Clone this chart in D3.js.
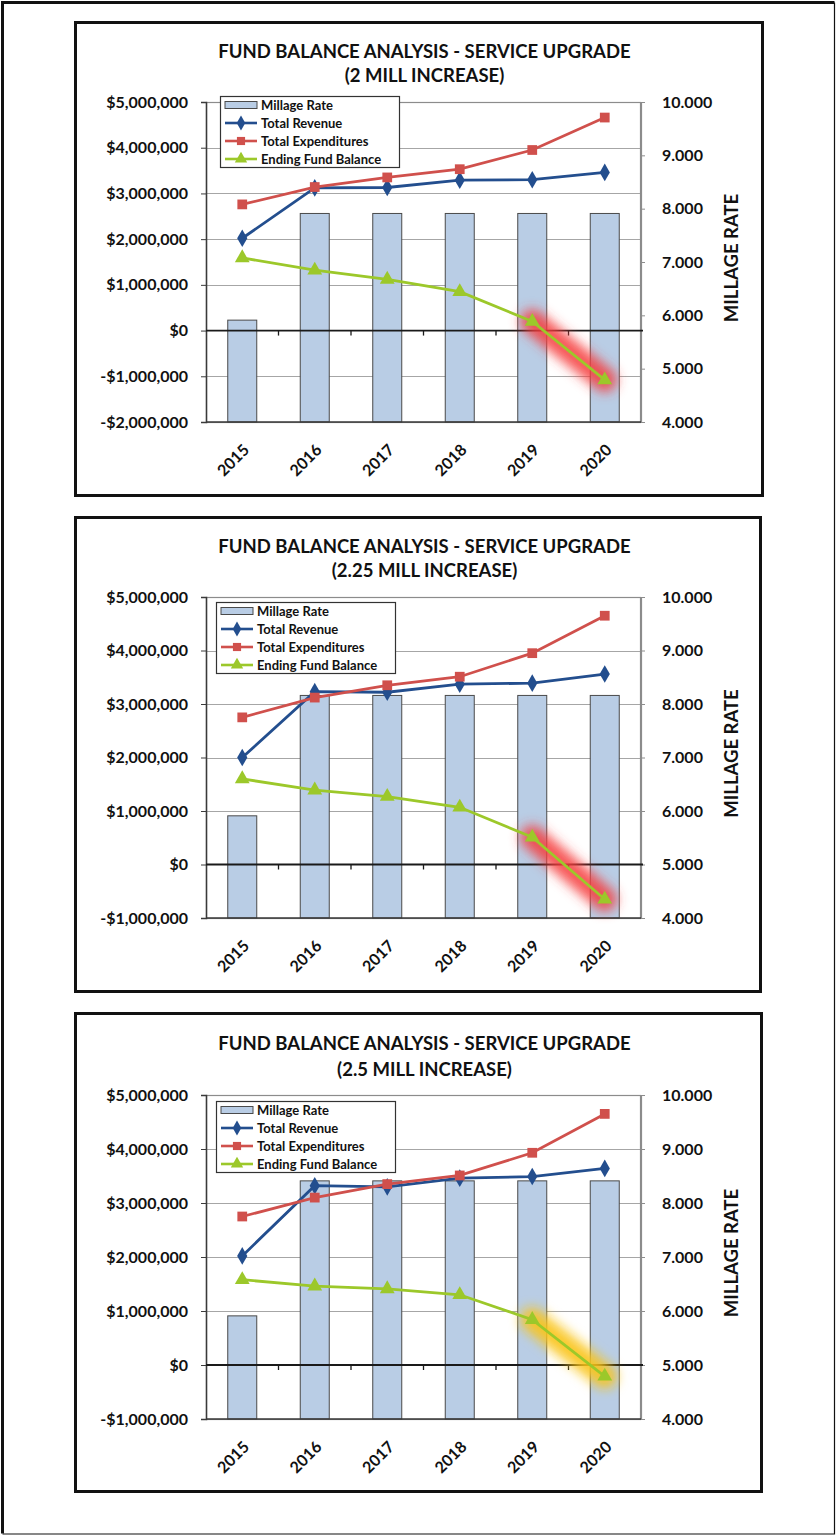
<!DOCTYPE html>
<html>
<head>
<meta charset="utf-8">
<script src="https://cdn.jsdelivr.net/npm/d3@7"></script>
<style>
  body { margin: 0; background: #fff; }
  svg { display: block; font-family: Lato, "Open Sans", "DejaVu Sans", sans-serif; }
</style>
</head>
<body>
<svg id="page" width="837" height="1535"></svg>
<script>
// ---- data -------------------------------------------------------------
const years = ["2015", "2016", "2017", "2018", "2019", "2020"];
const seriesNames = ["Millage Rate", "Total Revenue", "Total Expenditures", "Ending Fund Balance"];
const mainTitle = "FUND BALANCE ANALYSIS - SERVICE UPGRADE";
const subTitles = ["(2 MILL INCREASE)", "(2.25 MILL INCREASE)", "(2.5 MILL INCREASE)"];

// 2 mill increase
const millageA = [5.91, 7.91, 7.91, 7.91, 7.91, 7.91];
const revenueA = [2020000, 3120000, 3130000, 3290000, 3300000, 3460000];
const expendA  = [2760000, 3140000, 3350000, 3530000, 3950000, 4660000];
const balanceA = [1590000, 1320000, 1120000, 850000, 200000, -1080000];

// 2.25 mill increase
const millageB = [5.91, 8.16, 8.16, 8.16, 8.16, 8.16];
const revenueB = [2000000, 3230000, 3220000, 3370000, 3390000, 3560000];
const expendB  = [2750000, 3120000, 3350000, 3510000, 3950000, 4650000];
const balanceB = [1600000, 1390000, 1270000, 1070000, 510000, -650000];

// 2.5 mill increase
const millageC = [5.91, 8.41, 8.41, 8.41, 8.41, 8.41];
const revenueC = [2020000, 3320000, 3300000, 3460000, 3490000, 3640000];
const expendC  = [2750000, 3100000, 3350000, 3510000, 3930000, 4650000];
const balanceC = [1580000, 1460000, 1410000, 1300000, 840000, -210000];

// axis ticks
const dollarTicksA = [-2000000, -1000000, 0, 1000000, 2000000, 3000000, 4000000, 5000000];
const dollarTicksBC = [-1000000, 0, 1000000, 2000000, 3000000, 4000000, 5000000];
const millageTicks = [4, 5, 6, 7, 8, 9, 10];

// ---- styling ----------------------------------------------------------
const C = {
  bar: "#b9cde5", barStroke: "#4a4a4a",
  revenue: "#234e8e", expend: "#d0504c", balance: "#9cc82a",
  grid: "#a6a6a6", frame: "#8c8c8c", axis: "#1a1a1a", text: "#111"
};

const panels = [
  { millage: millageA, revenue: revenueA, expend: expendA, balance: balanceA,
    sub: subTitles[0], dTicks: dollarTicksA, glow: "rgba(246,60,60,0.85)",
    box: [74, 21, 764, 497], plot: [206, 102, 641, 422], titleY: [51, 75], legend: [220, 96] },
  { millage: millageB, revenue: revenueB, expend: expendB, balance: balanceB,
    sub: subTitles[1], dTicks: dollarTicksBC, glow: "rgba(246,60,60,0.85)",
    box: [74, 516, 762, 993], plot: [206, 597, 641, 918], titleY: [546, 570], legend: [216, 602] },
  { millage: millageC, revenue: revenueC, expend: expendC, balance: balanceC,
    sub: subTitles[2], dTicks: dollarTicksBC, glow: "rgba(250,196,20,0.9)",
    box: [74, 1012, 763, 1493], plot: [206, 1095, 641, 1419], titleY: [1043, 1069], legend: [216, 1101] }
];

const svg = d3.select("#page");
svg.append("rect").attr("width", 837).attr("height", 1535).attr("fill", "#fff");

// outer page frame
svg.append("path")
  .attr("d", "M2.5,1533.5 L2.5,2.5 L834.5,2.5")
  .attr("fill", "none").attr("stroke", "#111").attr("stroke-width", 3);
svg.append("path")
  .attr("d", "M2.5,1534 L834.5,1534 L834.5,2.5")
  .attr("fill", "none").attr("stroke", "#111").attr("stroke-width", 1.2);

const defs = svg.append("defs");
defs.append("filter").attr("id", "soften")
  .attr("x", "-50%").attr("y", "-50%").attr("width", "200%").attr("height", "200%")
  .append("feGaussianBlur").attr("stdDeviation", 6);

const fmtDollar = v => (v < 0 ? "-$" : "$") + d3.format(",")(Math.abs(v));
const fmtMill = d3.format(".3f");

function drawPanel(p) {
  const [bx0, by0, bx1, by1] = p.box;
  const [L, T, R, B] = p.plot;
  const g = svg.append("g");

  g.append("rect")
    .attr("x", bx0 + 1.5).attr("y", by0 + 1.5)
    .attr("width", bx1 - bx0 - 3).attr("height", by1 - by0 - 3)
    .attr("fill", "#fff").attr("stroke", "#111").attr("stroke-width", 3);

  // titles
  const tcx = (L + R) / 2 + 1;
  g.append("text").attr("x", tcx).attr("y", p.titleY[0]).attr("dy", "0.36em")
    .attr("text-anchor", "middle").attr("font-weight", 700).attr("font-size", 18.5)
    .attr("fill", C.text).text(mainTitle);
  g.append("text").attr("x", tcx).attr("y", p.titleY[1]).attr("dy", "0.36em")
    .attr("text-anchor", "middle").attr("font-weight", 700).attr("font-size", 18.5)
    .attr("fill", C.text).text(p.sub);

  const x = d3.scaleBand().domain(years).range([L, R]);
  const cx = d => x(d) + x.bandwidth() / 2;
  const yL = d3.scaleLinear().domain([p.dTicks[0], p.dTicks[p.dTicks.length - 1]]).range([B, T]);
  const yR = d3.scaleLinear().domain([millageTicks[0], millageTicks[millageTicks.length - 1]]).range([B, T]);

  // gridlines
  g.append("g").selectAll("line").data(p.dTicks.filter(v => v !== 0)).join("line")
    .attr("x1", L).attr("x2", R).attr("y1", d => Math.round(yL(d)) + 0.5).attr("y2", d => Math.round(yL(d)) + 0.5)
    .attr("stroke", C.grid).attr("stroke-width", 1);

  // plot frame
  g.append("rect").attr("x", L + 0.5).attr("y", Math.round(T) + 0.5)
    .attr("width", R - L - 1).attr("height", Math.round(B) - Math.round(T))
    .attr("fill", "none").attr("stroke", C.frame).attr("stroke-width", 1.2);

  // millage bars (right axis)
  const bw = x.bandwidth() * 0.4;
  g.append("g").selectAll("rect").data(years).join("rect")
    .attr("x", (d) => cx(d) - bw / 2)
    .attr("y", (d, i) => yR(p.millage[i]))
    .attr("width", bw)
    .attr("height", (d, i) => B - yR(p.millage[i]))
    .attr("fill", C.bar).attr("stroke", C.barStroke).attr("stroke-width", 1);

  // left (dollar) axis
  const axL = d3.axisLeft(yL).tickValues(p.dTicks).tickFormat(fmtDollar).tickSize(5).tickPadding(13);
  const gL = g.append("g").attr("transform", `translate(${L},0)`).call(axL);
  gL.select(".domain").attr("stroke", "#3a3a3a").attr("stroke-width", 1.5);
  gL.selectAll(".tick line").attr("stroke", "#3a3a3a");
  gL.selectAll("text").attr("font-size", 16).attr("font-weight", 700).attr("fill", C.text)
    .attr("font-family", "Lato, 'Open Sans', sans-serif");

  // right (millage) axis
  const axR = d3.axisRight(yR).tickValues(millageTicks).tickFormat(fmtMill).tickSize(4).tickPadding(17);
  const gR = g.append("g").attr("transform", `translate(${R},0)`).call(axR);
  gR.select(".domain").attr("stroke", C.frame).attr("stroke-width", 1.2);
  gR.selectAll(".tick line").attr("stroke", C.frame);
  gR.selectAll("text").attr("font-size", 16).attr("font-weight", 700).attr("fill", C.text)
    .attr("font-family", "Lato, 'Open Sans', sans-serif");

  // bottom frame line
  g.append("line").attr("x1", L).attr("x2", R).attr("y1", B).attr("y2", B)
    .attr("stroke", "#3a3a3a").attr("stroke-width", 1.5);

  // category axis crossing at $0
  const y0 = yL(0);
  g.append("line").attr("x1", L).attr("x2", R + 2).attr("y1", y0).attr("y2", y0)
    .attr("stroke", C.axis).attr("stroke-width", 1.8);
  g.append("g").selectAll("line").data(d3.range(1, years.length)).join("line")
    .attr("x1", i => L + i * x.step()).attr("x2", i => L + i * x.step())
    .attr("y1", y0).attr("y2", y0 + 5)
    .attr("stroke", C.axis).attr("stroke-width", 1.3);

  // year labels
  g.append("g").selectAll("text").data(years).join("text")
    .attr("transform", d => `translate(${cx(d) + 4},${B + 25}) rotate(-45)`)
    .attr("text-anchor", "end").attr("dy", "0.35em")
    .attr("font-size", 16).attr("font-weight", 700).attr("fill", C.text)
    .text(d => d);

  // axis title
  g.append("text")
    .attr("transform", `translate(${R + 90},${(T + B) / 2 - 4}) rotate(-90)`)
    .attr("text-anchor", "middle").attr("dy", "0.36em")
    .attr("font-size", 18.5).attr("font-weight", 700).attr("fill", C.text)
    .text("MILLAGE RATE");

  // highlight behind the final fund-balance segment
  const n = years.length;
  g.append("line")
    .attr("x1", cx(years[n - 2])).attr("y1", yL(p.balance[n - 2]))
    .attr("x2", cx(years[n - 1])).attr("y2", yL(p.balance[n - 1]))
    .attr("stroke", p.glow).attr("stroke-width", 24).attr("stroke-linecap", "round")
    .attr("filter", "url(#soften)");

  const line = d3.line().x((d, i) => cx(years[i])).y(d => yL(d));
  const series = [
    { vals: p.revenue, color: C.revenue, sym: d3.symbolDiamond, size: 90 },
    { vals: p.expend, color: C.expend, sym: d3.symbolSquare, size: 95 },
    { vals: p.balance, color: C.balance, sym: d3.symbolTriangle, size: 95 }
  ];
  series.forEach(s => {
    g.append("path").datum(s.vals).attr("d", line)
      .attr("fill", "none").attr("stroke", s.color).attr("stroke-width", 2.8);
    g.append("g").selectAll("path").data(s.vals).join("path")
      .attr("transform", (d, i) => `translate(${cx(years[i])},${yL(d)})`)
      .attr("d", d3.symbol().type(s.sym).size(s.size))
      .attr("fill", s.color);
  });

  // legend
  const [lx, ly] = p.legend;
  const lg = g.append("g").attr("transform", `translate(${lx},${ly})`);
  lg.append("rect").attr("x", 0.5).attr("y", 0.5).attr("width", 179).attr("height", 71)
    .attr("fill", "#fff").attr("stroke", "#333").attr("stroke-width", 1.2);
  const rowY = i => 9 + i * 18;
  lg.append("rect").attr("x", 5).attr("y", rowY(0) - 3.5).attr("width", 32).attr("height", 7)
    .attr("fill", C.bar).attr("stroke", C.barStroke).attr("stroke-width", 1);
  series.forEach((s, k) => {
    const yy = rowY(k + 1);
    lg.append("line").attr("x1", 5).attr("x2", 37).attr("y1", yy).attr("y2", yy)
      .attr("stroke", s.color).attr("stroke-width", 2.6);
    lg.append("path").attr("transform", `translate(21,${yy})`)
      .attr("d", d3.symbol().type(s.sym).size(s.size * 0.7)).attr("fill", s.color);
  });
  lg.selectAll("text.lbl").data(seriesNames).join("text").attr("class", "lbl")
    .attr("x", 41).attr("y", (d, i) => rowY(i)).attr("dy", "0.36em")
    .attr("font-size", 13).attr("font-weight", 700).attr("fill", C.text)
    .text(d => d);
}

panels.forEach(drawPanel);
</script>
</body>
</html>
